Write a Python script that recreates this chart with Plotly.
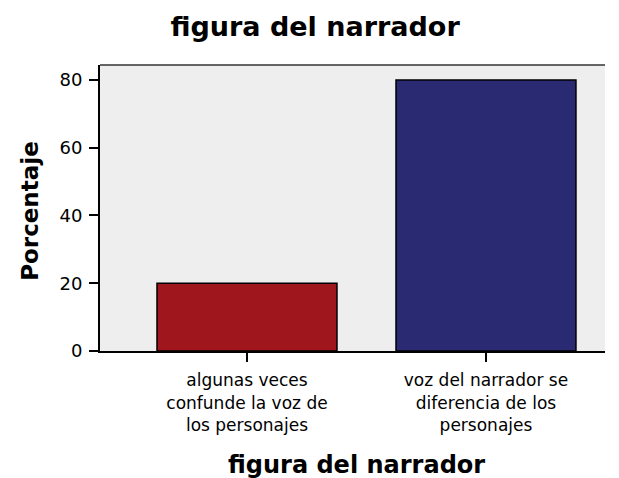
import plotly.graph_objects as go

categories = ["algunas veces<br>confunde la voz de<br>los personajes",
              "voz del narrador se<br>diferencia de los<br>personajes"]
values = [20, 80]
colors = ["#9F171C", "#292A72"]
y_ticks = [0, 20, 40, 60, 80]
title_text = "figura del narrador"
x_title = "figura del narrador"
y_title = "Porcentaje"

font = "DejaVu Sans, Liberation Sans, Arial, sans-serif"

fig = go.Figure()
fig.add_trace(go.Bar(
    x=[0, 1], y=values, width=0.753,
    marker=dict(color=colors, line=dict(color="black", width=1.5)),
))

fig.update_layout(
    width=619, height=478,
    margin=dict(l=100, r=14, t=65, b=127, autoexpand=False),
    paper_bgcolor="white", plot_bgcolor="#EEEEEE",
    showlegend=False,
    title=dict(text="<b>" + title_text + "</b>", x=0.509, xanchor="center",
               xref="container", y=0.9435, yanchor="middle",
               font=dict(family=font, size=27, color="black")),
    xaxis=dict(range=[-0.615, 1.498], tickvals=[0, 1], ticktext=categories,
               ticks="outside", ticklen=9, tickwidth=2, tickcolor="black",
               showline=True, linewidth=2, linecolor="black",
               showgrid=False, zeroline=False, automargin=False,
               ticklabelstandoff=4,
               tickfont=dict(family=font, size=17, color="black")),
    yaxis=dict(range=[0, 84.4], tickvals=y_ticks,
               ticks="outside", ticklen=9, tickwidth=2, tickcolor="black",
               showline=True, linewidth=2, linecolor="black",
               showgrid=False, zeroline=False, automargin=False,
               ticklabelstandoff=3,
               tickfont=dict(family=font, size=18, color="black")),
)
fig.add_annotation(text="<b>" + x_title + "</b>", xref="paper", yref="paper",
                   x=0.507, y=0, yshift=-114, xanchor="center", yanchor="middle",
                   showarrow=False, font=dict(family=font, size=24, color="black"))
fig.add_annotation(text="<b>" + y_title + "</b>", xref="paper", yref="paper",
                   x=0, xshift=-70, y=0.49, xanchor="center", yanchor="middle",
                   textangle=-90, showarrow=False,
                   font=dict(family=font, size=23, color="black"))
fig.add_shape(type="line", xref="paper", yref="paper", x0=0, x1=1, y0=1, y1=1,
              line=dict(color="#333333", width=1.5))
fig.write_html("out.html", config={"displayModeBar": False},
               post_script="document.body.style.margin='0';document.body.style.overflow='hidden';")
